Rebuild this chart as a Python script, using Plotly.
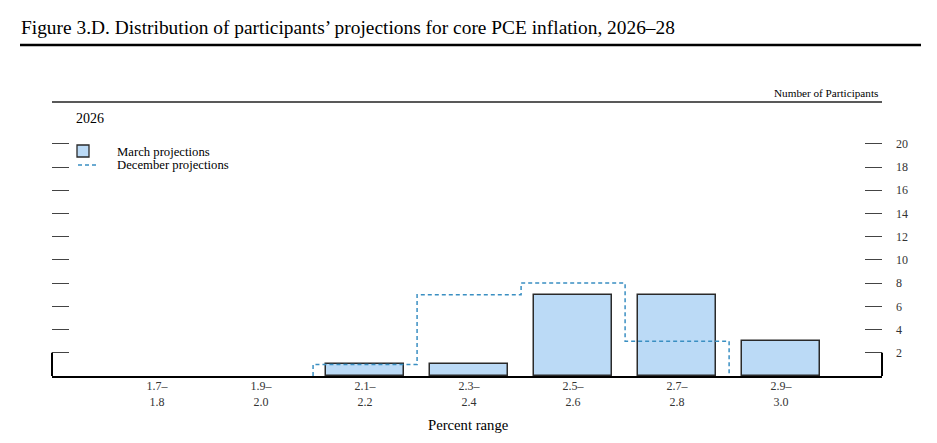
import plotly.graph_objects as go

# ---- data ----
bins = ["1.7–<br>1.8", "1.9–<br>2.0", "2.1–<br>2.2", "2.3–<br>2.4",
        "2.5–<br>2.6", "2.7–<br>2.8", "2.9–<br>3.0"]
march = [0, 0, 1, 1, 7, 7, 3]
december = [0, 0, 1, 7, 8, 3, 0]
yticks = [2, 4, 6, 8, 10, 12, 14, 16, 18, 20]

OFF = 8  # page body margin
W, H = 937 - 2 * OFF, 443 - 2 * OFF
L, R, T, B = 52 - OFF, 882 - OFF, 102 - OFF, 376 - OFF  # plot area in figure px


def px(x):  # x in screenshot pixels -> paper
    return (x - OFF - L) / (R - L)


def py(y):  # y in screenshot pixels -> paper
    return (B - (y - OFF)) / (B - T)


pos = list(range(len(bins)))

# step outline for December projections (bin edges), between first and last non-zero bins
nz = [i for i, v in enumerate(december) if v]
first, last = nz[0], nz[-1]
step_x = [pos[first] - 0.5]
step_y = [0]
for i in range(first, last + 1):
    step_x += [pos[i] - 0.5, pos[i] + 0.5]
    step_y += [december[i], december[i]]
step_x.append(pos[last] + 0.5)
step_y.append(0)

march_plot = [v if v else None for v in march]

SERIF = "Liberation Serif"
BAR_FILL = "#BBDAF6"
BAR_LINE = "#2a2a2a"
DASH = "#3A8FC2"

fig = go.Figure()
fig.add_trace(go.Bar(
    x=pos, y=march_plot, width=0.75,
    marker=dict(color=BAR_FILL, line=dict(color=BAR_LINE, width=1.5)),
    showlegend=False, hoverinfo="skip",
))
fig.add_trace(go.Scatter(
    x=step_x, y=step_y, mode="lines",
    line=dict(color=DASH, width=1.5, dash="4px,3px"),
    showlegend=False, hoverinfo="skip",
))

fig.update_layout(
    width=W, height=H,
    margin=dict(l=L, r=W - R, t=T, b=H - B, pad=0),
    paper_bgcolor="white", plot_bgcolor="white",
    bargap=0,
    font=dict(family=SERIF, size=12, color="#222"),
    xaxis=dict(
        range=[-1.01, 6.97], tickvals=pos, ticktext=bins, ticks="",
        showgrid=False, zeroline=False, showline=True,
        linecolor="black", linewidth=2, ticklabelstandoff=-2,
        tickfont=dict(family=SERIF, size=12, color="#333"),
        fixedrange=True,
    ),
    yaxis=dict(
        range=[0, 23.6], tickvals=yticks, ticks="inside", ticklen=17,
        tickwidth=1.3, tickcolor="#444", side="right", mirror="ticks",
        showgrid=False, zeroline=False, showline=False,
        ticklabelstandoff=13,
        tickfont=dict(family=SERIF, size=12, color="#333"),
        fixedrange=True,
    ),
)

shapes = []
# short vertical borders (0 to 2) at left and right
for xp in (0, 1):
    shapes.append(dict(type="line", xref="paper", yref="y", x0=xp, x1=xp,
                       y0=0, y1=2, line=dict(color="black", width=2)))
# top rule of panel
shapes.append(dict(type="line", xref="paper", yref="paper", x0=0, x1=1,
                   y0=1, y1=1, line=dict(color="#222", width=1.3)))
# title rule
shapes.append(dict(type="line", xref="paper", yref="paper",
                   x0=px(20), x1=px(921), y0=py(45), y1=py(45),
                   line=dict(color="black", width=2.5)))
# legend swatches
shapes.append(dict(type="rect", xref="paper", yref="paper",
                   x0=px(77), x1=px(89), y0=py(157), y1=py(145),
                   fillcolor=BAR_FILL, line=dict(color=BAR_LINE, width=1.3)))
shapes.append(dict(type="line", xref="paper", yref="paper",
                   x0=px(78), x1=px(99), y0=py(165), y1=py(165),
                   line=dict(color=DASH, width=1.5, dash="4px,3px")))

annotations = [
    dict(text="Figure 3.D. Distribution of participants’ projections for core PCE inflation, 2026–28",
         xref="paper", yref="paper", x=px(19), y=py(27), xanchor="left", yanchor="middle",
         showarrow=False, font=dict(family=SERIF, size=19.4, color="black")),
    dict(text="Number of Participants", xref="paper", yref="paper",
         x=px(880), y=py(93), xanchor="right", yanchor="middle",
         showarrow=False, font=dict(family=SERIF, size=11.2, color="black")),
    dict(text="2026", xref="paper", yref="paper", x=px(74), y=py(118),
         xanchor="left", yanchor="middle", showarrow=False,
         font=dict(family=SERIF, size=14, color="black")),
    dict(text="March projections", xref="paper", yref="paper", x=px(115), y=py(151.5),
         xanchor="left", yanchor="middle", showarrow=False,
         font=dict(family=SERIF, size=12.7, color="black")),
    dict(text="December projections", xref="paper", yref="paper", x=px(115), y=py(164.5),
         xanchor="left", yanchor="middle", showarrow=False,
         font=dict(family=SERIF, size=12.7, color="black")),
    dict(text="Percent range", xref="paper", yref="paper", x=px(469), y=py(425),
         xanchor="center", yanchor="middle", showarrow=False,
         font=dict(family=SERIF, size=14.7, color="black")),
]

fig.update_layout(shapes=shapes, annotations=annotations)
fig.write_html("out.html", config={"displayModeBar": False})
